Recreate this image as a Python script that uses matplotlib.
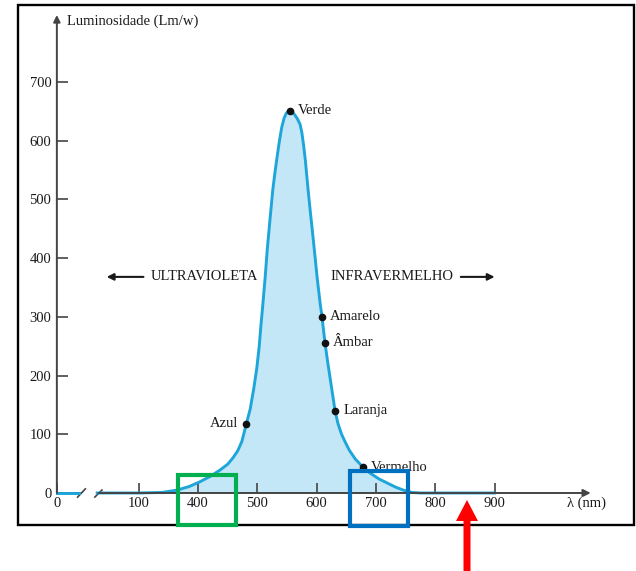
import matplotlib.pyplot as plt
from matplotlib.patches import Rectangle, FancyArrow

plt.rcParams['font.family'] = ['Liberation Serif', 'DejaVu Serif']

# Curve (wavelength nm, luminosity Lm/w)
wavelength = [230, 300, 340, 365, 385, 403, 420, 437, 450, 459, 467, 474, 481,
              488, 494, 499, 503, 506, 509, 513, 517, 521, 526, 530, 533, 537,
              541, 545, 549, 553, 556, 559, 563, 567, 572, 575, 578, 581, 585,
              589, 593, 597, 601, 606, 609, 614, 619, 624, 631, 636, 642, 648,
              655, 665, 678, 690, 705, 719, 733, 746, 760, 775, 900]
luminosity = [0, 0, 1, 5, 11, 19, 28, 39, 49, 60, 72, 88, 116,
              143, 178, 212, 248, 285, 318, 365, 418, 462, 516, 548, 570, 598,
              622, 638, 647, 651, 651, 649, 644, 638, 628, 614, 592, 566, 522,
              482, 444, 405, 365, 322, 300, 256, 220, 187, 140, 118, 100, 87,
              73, 58, 44, 34, 24, 17, 10, 5, 1, 0, 0]

# Named colours on the curve
color_names = ['Azul', 'Verde', 'Amarelo', 'Âmbar', 'Laranja', 'Vermelho']
color_nm = [481, 555, 609, 614, 631, 678]
color_lum = [118, 651, 300, 256, 140, 44]

# Axis ticks (broken axis: "0" and "100" sit left of the break)
xtick_pos = [162, 300, 400, 500, 600, 700, 800, 900]
xtick_labels = ['0', '100', '400', '500', '600', '700', '800', '900']
ytick_pos = [0, 100, 200, 300, 400, 500, 600, 700]

axis_col = '#444444'
curve_col = '#1ea5d9'
fill_col = '#c4e7f8'
txt_col = '#1a1a1a'
fs = 10.5

fig = plt.figure(figsize=(6.36, 5.71), dpi=100)
ax = fig.add_axes([18 / 636, 46 / 571, 616 / 636, 520 / 571])
ax.set_xlim(96.5, 1135)
ax.set_ylim(-54.5, 831)

for s in ['top', 'right']:
    ax.spines[s].set_visible(False)
ax.spines['left'].set_position(('data', 162))
ax.spines['bottom'].set_position(('data', 0))
ax.spines['left'].set_visible(False)
ax.spines['bottom'].set_visible(False)

# axis lines with arrows
ax.annotate('', xy=(162, 814), xytext=(162, 0),
            arrowprops=dict(arrowstyle='-|>', color=axis_col, lw=1.4,
                            shrinkA=0, shrinkB=0, mutation_scale=10))
ax.annotate('', xy=(1062, 0), xytext=(232, 0),
            arrowprops=dict(arrowstyle='-|>', color=axis_col, lw=1.4,
                            shrinkA=0, shrinkB=0, mutation_scale=11))
ax.plot([162, 203], [0, 0], color=axis_col, lw=1.4)
# break marks
ax.plot([197, 210], [-7, 7], color=axis_col, lw=1.2)
ax.plot([226, 238], [-7, 5], color=axis_col, lw=1.2)

ax.set_xticks(xtick_pos)
ax.set_xticklabels(xtick_labels)
ax.set_yticks(ytick_pos)
ax.tick_params(axis='x', direction='in', length=7, width=1.2, color=axis_col,
               labelsize=fs, labelcolor=txt_col, pad=3)
ax.tick_params(axis='y', direction='in', length=8, width=1.2, color=axis_col,
               labelsize=fs, labelcolor=txt_col, pad=4)

# curve
ax.fill_between(wavelength, luminosity, 0, color=fill_col, lw=0)
ax.plot(wavelength, luminosity, color=curve_col, lw=2.1,
        solid_joinstyle='round')
ax.plot([162, 200], [0, 0], color=curve_col, lw=2.1)

ax.plot(color_nm, color_lum, 'o', color='#111111', ms=4.5, zorder=5)
for name, x, y in zip(color_names, color_nm, color_lum):
    if name == 'Azul':
        off, ha = (-6, 0), 'right'
    else:
        off, ha = (6, 0), 'left'
    ax.annotate(name, (x, y), xytext=off, textcoords='offset points',
                ha=ha, va='center', fontsize=fs, color=txt_col)

ax.text(179, 804, 'Luminosidade (Lm/w)', ha='left', va='center',
        fontsize=fs, color=txt_col)
ax.text(1055, -17, 'λ (nm)', ha='center', va='center', fontsize=fs,
        color=txt_col, family=['Liberation Serif', 'DejaVu Sans'])

ax.text(501, 368, 'ULTRAVIOLETA', ha='right', va='center', fontsize=fs, color=txt_col)
ax.annotate('', xy=(246, 368), xytext=(308, 368),
            arrowprops=dict(arrowstyle='-|>', color=txt_col, lw=1.5,
                            shrinkA=0, shrinkB=0, mutation_scale=10))
ax.text(624, 368, 'INFRAVERMELHO', ha='left', va='center', fontsize=fs, color=txt_col)
ax.annotate('', xy=(900, 368), xytext=(843, 368),
            arrowprops=dict(arrowstyle='-|>', color=txt_col, lw=1.5,
                            shrinkA=0, shrinkB=0, mutation_scale=10))

# outer frame
fig.patches.append(Rectangle((0.18, 0.46), 6.16, 5.20, fill=False, lw=1.7,
                             ec='black', transform=fig.dpi_scale_trans))
# highlight boxes and red arrow
fig.patches.append(Rectangle((1.78, 0.46), 0.58, 0.50, fill=False, lw=3.0,
                             ec='#00b050', transform=fig.dpi_scale_trans))
fig.patches.append(Rectangle((3.50, 0.45), 0.58, 0.55, fill=False, lw=3.0,
                             ec='#0070c0', transform=fig.dpi_scale_trans))
fig.patches.append(FancyArrow(4.67, 0.0, 0, 0.71, width=0.07, head_width=0.22,
                              head_length=0.21, length_includes_head=True,
                              color='#ff0000', lw=0, transform=fig.dpi_scale_trans))

fig.savefig('out.png', dpi=100)
